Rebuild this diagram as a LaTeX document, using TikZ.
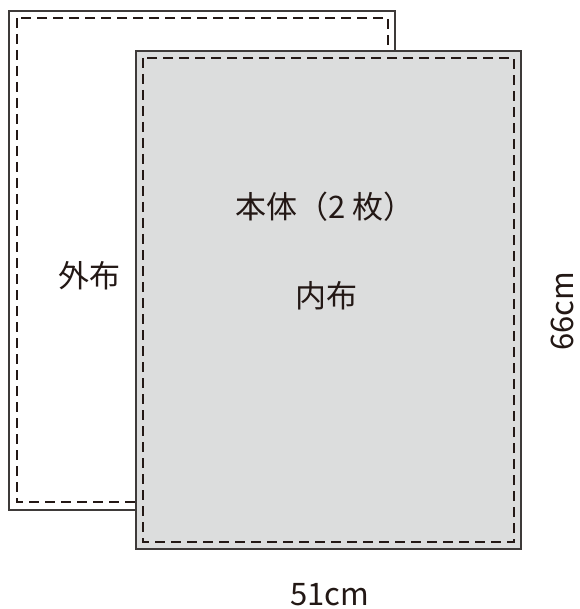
\documentclass[tikz,border=0pt]{standalone}
\usepackage{fontspec}
\setmainfont{Noto Sans CJK JP}
\begin{document}
\begin{tikzpicture}[x=1pt,y=-1pt,
  edge/.style={draw=linec,line width=1.4pt},
  seam/.style={draw=seamc,line width=1.2pt,dash pattern=on 10pt off 6pt},
  lbl/.style={text=txtc,font=\fontsize{31}{33}\selectfont,inner sep=0pt}]
\definecolor{linec}{HTML}{3E3A39}
\definecolor{seamc}{HTML}{231815}
\definecolor{txtc}{HTML}{231815}
\definecolor{fillc}{HTML}{DCDDDD}
\useasboundingbox (0,0) rectangle (579,609);
% outer fabric
\path[edge,fill=white] (9,11) rectangle (395,510);
\path[seam] (17,18) rectangle (388,502);
% inner fabric
\path[edge,fill=fillc] (136,51) rectangle (521,549);
\path[seam] (143,58) rectangle (514,542);
\node[lbl] (outer) at (89,276) {外布};
\node[lbl] (body) at (325,207) {本体（2 枚）};
\node[lbl] (inner) at (326,296) {内布};
\node[lbl,anchor=base,rotate=90] (h) at (573,311) {66cm};
\node[lbl,anchor=base] (w) at (330,605) {51cm};
\end{tikzpicture}
\end{document}
